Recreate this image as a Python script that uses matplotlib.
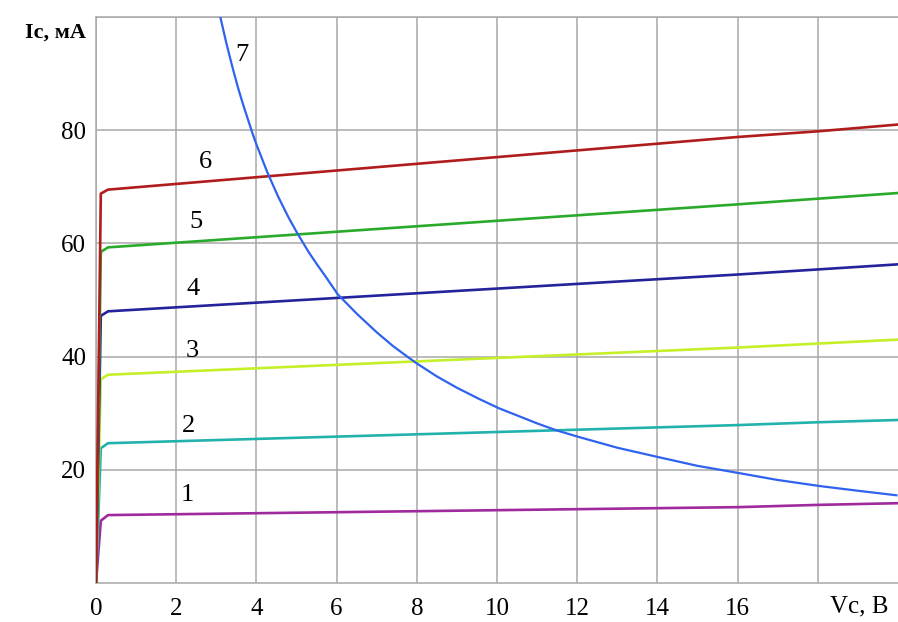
import matplotlib
matplotlib.use("Agg")
import matplotlib.pyplot as plt

plt.rcParams['font.family'] = ['Liberation Serif', 'DejaVu Serif']

# Output characteristics (curves 1-6): V, I read at origin, knee and right end
v_char = [0.0, 0.12, 0.3, 16.0, 18.0, 20.0]
i_curve1 = [0.0, 11.0, 12.0, 13.4, 13.8, 14.1]
i_curve2 = [0.0, 23.8, 24.7, 27.9, 28.4, 28.8]
i_curve3 = [0.0, 36.0, 36.8, 41.6, 42.3, 43.0]
i_curve4 = [0.0, 47.2, 48.0, 54.5, 55.4, 56.3]
i_curve5 = [0.0, 58.5, 59.3, 66.9, 67.9, 68.9]
i_curve6 = [0.0, 68.8, 69.5, 78.8, 79.8, 81.0]

# Curve 7 (max power hyperbola), read points
v_curve7 = [3.09, 3.25, 3.40, 3.55, 3.67, 3.9, 4.0, 4.27, 4.54, 4.8, 5.02,
            5.3, 5.5, 5.7, 6.03, 6.5, 7.0, 7.4, 7.8, 8.0, 8.5, 9.0, 9.56,
            10.04, 11.0, 11.47, 12.04, 13.0, 14.05, 15.0, 16.05, 17.0,
            18.08, 19.0, 19.96]
i_curve7 = [100.3, 95.4, 91.2, 87.3, 84.5, 79.5, 77.5, 72.6, 68.3, 64.6,
            61.8, 58.5, 56.4, 54.4, 51.0, 47.6, 44.3, 41.9, 39.8, 38.8, 36.5,
            34.5, 32.5, 30.9, 28.2, 27.0, 25.8, 23.9, 22.2, 20.7, 19.4, 18.2,
            17.1, 16.3, 15.5]

x_ticks = [0, 2, 4, 6, 8, 10, 12, 14, 16, 18]
x_labels = ['0', '2', '4', '6', '8', '10', '12', '14', '16', '']
y_ticks = [20, 40, 60, 80, 100]
y_labels = ['20', '40', '60', '80', '']

labels = ['1', '2', '3', '4', '5', '6', '7']
label_v = [2.28, 2.31, 2.41, 2.41, 2.49, 2.74, 3.64]
label_i = [15.5, 27.7, 41.0, 51.9, 63.8, 74.3, 93.2]

colors = ['#9e2a9e', '#22b2ad', '#c4f02a', '#23239c', '#2aaa2a', '#b01c1c']
c7 = '#2f62ee'

fig = plt.figure(figsize=(8.98, 6.22), dpi=100)
ax = fig.add_axes([96 / 898, 1 - 583 / 622, 1 - 96 / 898, (583 - 17) / 622])
ax.set_xlim(0, 20)
ax.set_ylim(0, 100)

for ys, c in zip([i_curve1, i_curve2, i_curve3, i_curve4, i_curve5, i_curve6], colors):
    ax.plot(v_char, ys, color=c, lw=1.9, solid_joinstyle='round', zorder=3)
ax.plot(v_curve7, i_curve7, color=c7, lw=1.6, solid_joinstyle='round', zorder=4)

for t, xv, yv in zip(labels, label_v, label_i):
    ax.text(xv, yv, t, fontsize=19, ha='center', va='center', color='black', zorder=5)

ax.set_xticks(x_ticks)
ax.set_xticklabels(x_labels, fontsize=18)
ax.set_yticks(y_ticks)
ax.set_yticklabels(y_labels, fontsize=18)
ax.tick_params(axis='both', length=0)
ax.tick_params(axis='x', pad=11)
ax.tick_params(axis='y', pad=7)
ax.grid(True, color='#a8a8a8', lw=1.1)
ax.set_axisbelow(True)
for s in ['left', 'bottom', 'top']:
    ax.spines[s].set_color('#a8a8a8')
    ax.spines[s].set_linewidth(1.1)
ax.spines['right'].set_visible(False)

ax.text(-0.012, 0.973, 'Ic, мА', transform=ax.transAxes, fontsize=16,
        fontweight='bold', ha='right', va='center')
ax.text(18.3, -0.042, 'Vc, B', transform=ax.get_xaxis_transform(), fontsize=18,
        ha='left', va='center')

fig.savefig('out.png', dpi=100)
